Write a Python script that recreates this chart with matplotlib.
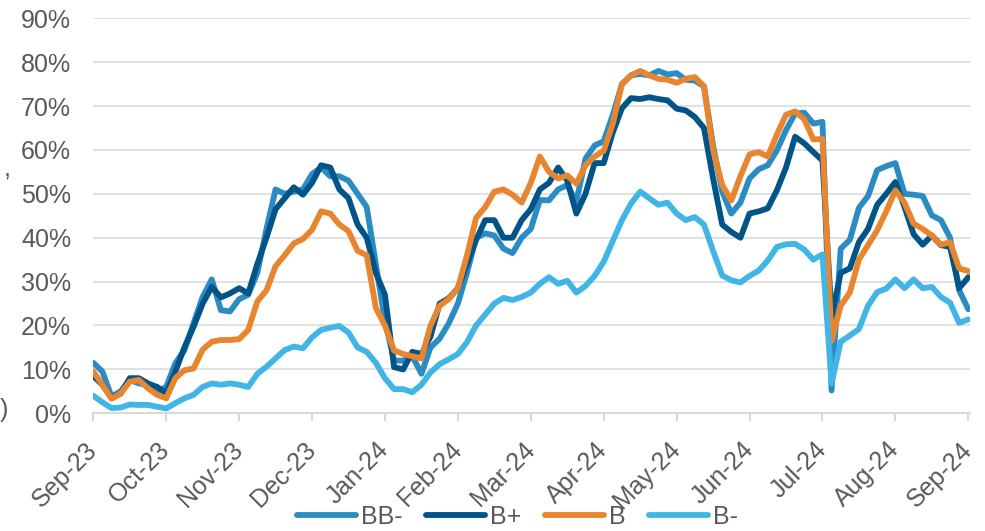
import numpy as np
import matplotlib
matplotlib.use('Agg')
import matplotlib.pyplot as plt
from matplotlib.transforms import ScaledTranslation

plt.rcParams['font.family'] = ['Liberation Sans', 'DejaVu Sans']

months = ['Sep-23', 'Oct-23', 'Nov-23', 'Dec-23', 'Jan-24', 'Feb-24', 'Mar-24',
          'Apr-24', 'May-24', 'Jun-24', 'Jul-24', 'Aug-24', 'Sep-24']
per_month = 8  # observations between two month ticks

# values in %
bb_minus = [11.5, 9.5, 3.8, 5.0, 7.6, 6.8, 6.5, 5.0, 6.0, 11.4, 14.4, 20.5, 26.5, 30.5,
            23.5, 23.2, 26.0, 27.0, 32.0, 42.0, 51.0, 50.0, 50.5, 51.0, 54.5, 56.0, 54.0,
            54.0, 53.0, 50.0, 47.0, 34.0, 21.0, 12.0, 12.0, 13.0, 9.0, 15.0, 17.0, 20.5,
            25.0, 32.0, 40.0, 41.0, 40.5, 37.5, 36.5, 40.0, 42.0, 48.6, 48.5, 51.0, 52.0,
            48.2, 58.0, 61.0, 62.0, 68.0, 75.0, 77.0, 77.3, 77.0, 78.0, 77.2, 77.5, 76.0,
            75.8, 74.5, 61.0, 50.5, 45.5, 48.0, 53.5, 55.6, 56.5, 59.9, 64.5, 68.3, 68.5,
            66.0, 66.4, 5.2, 37.5, 39.5, 46.8, 49.5, 55.4, 56.3, 57.0, 50.0, 49.8, 49.5,
            45.1, 44.0, 40.0, 28.0, 23.7]
b_plus = [8.5, 6.5, 3.5, 4.5, 8.0, 8.0, 6.8, 6.0, 4.6, 9.5, 15.0, 19.7, 25.0, 28.8,
          26.4, 27.3, 28.5, 27.3, 34.0, 40.0, 46.5, 49.0, 51.5, 49.8, 52.5, 56.5, 56.0,
          51.0, 49.0, 43.0, 40.0, 32.0, 27.0, 10.5, 10.0, 14.0, 13.5, 17.5, 25.0, 26.2,
          28.5, 34.0, 39.5, 44.0, 44.0, 40.0, 40.0, 44.0, 46.5, 51.0, 52.5, 56.0, 53.0,
          45.5, 50.0, 57.0, 57.0, 64.0, 69.5, 71.8, 71.6, 72.0, 71.6, 71.3, 69.4, 69.0,
          67.5, 65.0, 53.5, 43.0, 41.3, 40.0, 45.5, 46.0, 46.7, 50.8, 56.0, 63.0, 61.5,
          59.5, 57.6, 22.0, 32.0, 33.0, 39.0, 42.0, 47.5, 50.0, 52.7, 47.0, 40.8, 38.4,
          40.5, 38.3, 37.9, 28.5, 31.0]
b_flat = [9.5, 6.5, 3.3, 4.5, 7.2, 7.6, 5.7, 4.2, 3.4, 8.0, 9.8, 10.2, 14.5, 16.3,
          16.7, 16.7, 16.9, 19.0, 25.5, 28.0, 33.5, 36.0, 38.7, 39.7, 41.8, 46.0, 45.5,
          43.0, 41.5, 37.0, 36.0, 24.0, 20.0, 14.3, 13.5, 13.0, 12.5, 20.0, 24.5, 26.0,
          28.5, 36.0, 44.5, 47.0, 50.5, 51.0, 49.8, 48.0, 52.5, 58.5, 55.0, 53.5, 54.2,
          52.3, 56.5, 58.5, 59.8, 66.0, 75.0, 77.0, 78.0, 77.0, 76.2, 76.0, 75.3, 76.2,
          76.6, 74.5, 60.0, 52.0, 48.5, 54.0, 59.0, 59.5, 58.5, 63.5, 68.0, 68.8, 67.0,
          62.4, 62.5, 16.5, 24.5, 27.5, 35.0, 38.3, 41.7, 46.0, 50.8, 48.0, 43.2, 42.0,
          40.5, 38.4, 39.0, 33.0, 32.4]
b_minus = [4.0, 2.5, 1.2, 1.3, 2.0, 1.9, 1.9, 1.5, 1.1, 2.3, 3.4, 4.2, 6.0, 6.8,
           6.5, 6.8, 6.5, 6.0, 9.0, 10.6, 12.5, 14.4, 15.2, 14.8, 17.3, 19.0, 19.5,
           19.9, 18.4, 15.0, 14.0, 11.5, 8.0, 5.5, 5.5, 4.8, 6.5, 9.3, 11.2, 12.3,
           13.5, 16.2, 20.0, 22.5, 25.0, 26.3, 25.8, 26.5, 27.5, 29.5, 31.0, 29.5, 30.2,
           27.5, 29.0, 31.3, 34.5, 39.3, 44.0, 47.8, 50.5, 49.0, 47.5, 48.0, 45.5, 44.0,
           44.7, 43.0, 37.0, 31.4, 30.3, 29.8, 31.3, 32.5, 34.8, 37.9, 38.5, 38.6, 37.3,
           35.0, 36.2, 6.8, 16.3, 17.7, 19.2, 24.5, 27.6, 28.4, 30.5, 28.5, 30.5, 28.5,
           28.8, 26.5, 25.2, 20.6, 21.4]

series = [('BB-', bb_minus, '#2B8CC4'),
          ('B+', b_plus, '#005488'),
          ('B', b_flat, '#E8852F'),
          ('B-', b_minus, '#41B5E5')]

txt = '#595959'
grid_c = '#D9D9D9'

fig = plt.figure(figsize=(9.85, 5.31), dpi=100)
ax = fig.add_axes([0.0947, 0.2217, 0.8901, 0.7439])

x = np.arange(len(bb_minus))
for name, vals, col in series:
    ax.plot(x, vals, color=col, lw=4.2, label=name,
            solid_joinstyle='round', solid_capstyle='round')

ax.set_xlim(0, 96.19)
ax.set_ylim(0, 90)
yt = np.arange(0, 91, 10)
ax.set_yticks(yt)
ax.set_yticklabels([f'{v}%' for v in yt])
ax.set_xticks(np.arange(len(months)) * per_month)
ax.set_xticklabels(months, rotation=45, ha='right', va='center', rotation_mode='anchor')
shift = ScaledTranslation(3 / 100, -2 / 100, fig.dpi_scale_trans)
for lab in ax.get_xticklabels():
    lab.set_transform(lab.get_transform() + shift)

ax.grid(axis='y', color=grid_c, lw=1.1)
ax.set_axisbelow(True)
for s in ['top', 'right', 'left']:
    ax.spines[s].set_visible(False)
ax.spines['bottom'].set_color(grid_c)
ax.spines['bottom'].set_linewidth(1.5)
ax.tick_params(axis='x', length=5.5, width=1.5, color=grid_c, pad=18,
               labelsize=18, labelcolor=txt)
ax.tick_params(axis='y', length=0, pad=16, labelsize=18, labelcolor=txt)

leg = fig.legend(loc='center', bbox_to_anchor=(0.5254, 0.026), ncol=4, frameon=False,
                 fontsize=18, handlelength=2.36, handletextpad=0.2, columnspacing=0.95,
                 borderpad=0, borderaxespad=0)
for t in leg.get_texts():
    t.set_color(txt)

# fragments of a cut-off note at the left edge
fig.text(0.004, (531 - 170) / 531, ',', fontsize=18, color=txt, va='center')
fig.text(0.0, (531 - 410) / 531, ')', fontsize=18, color=txt, va='center')

fig.savefig('out.png', dpi=100)
